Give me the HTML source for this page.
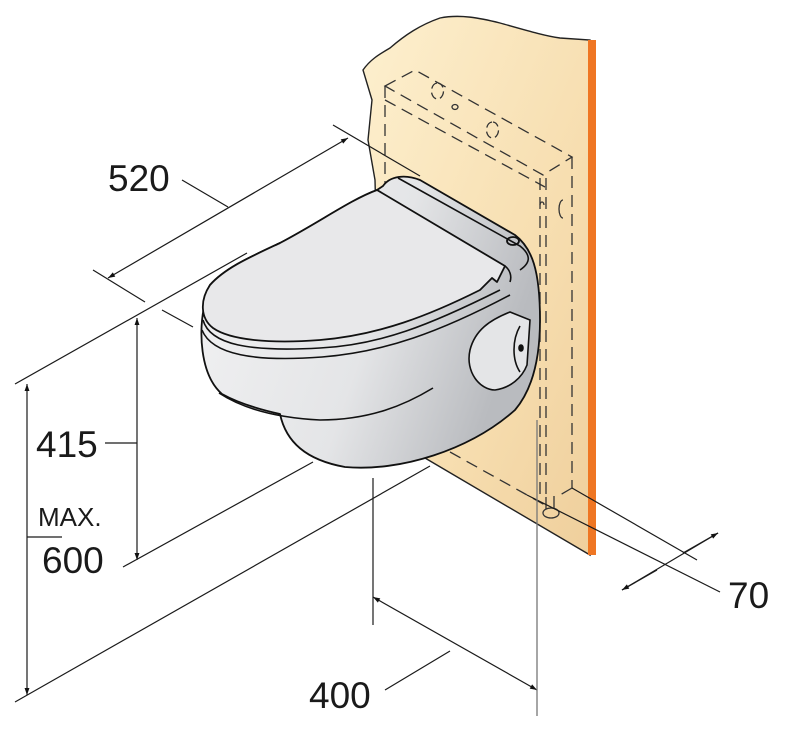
<!DOCTYPE html>
<html><head><meta charset="utf-8"><style>
html,body{margin:0;padding:0;background:#fff}
svg{display:block}
text{font-family:"Liberation Sans",Arial,sans-serif;fill:#1a1a1a}
</style></head><body>
<svg width="806" height="734" viewBox="0 0 806 734" xmlns="http://www.w3.org/2000/svg">
<defs>
<linearGradient id="wall" x1="0" y1="0" x2="1" y2="1">
<stop offset="0" stop-color="#fdf0cf"/><stop offset="0.6" stop-color="#f7deb0"/><stop offset="1" stop-color="#efcf9c"/>
</linearGradient>
<linearGradient id="bowl" x1="0" y1="0" x2="1" y2="0.3">
<stop offset="0" stop-color="#f2f2f3"/><stop offset="0.6" stop-color="#e4e5e7"/><stop offset="1" stop-color="#b9bbbf"/>
</linearGradient>
<marker id="ar" viewBox="0 0 10 10" refX="10" refY="5" markerWidth="14" markerHeight="7" orient="auto-start-reverse" markerUnits="userSpaceOnUse"><path d="M0,1.5 L10,5 L0,8.5 Z" fill="#111"/></marker>
</defs>

<!-- wall -->
<path d="M590,40 L590,555 L425,458 L378,300 L375,180 L368,140 L372,100 L363,70 C370,60 378,55 390,48 C405,35 420,25 440,18 C460,14 480,18 500,23 C525,30 545,36 560,38 L590,40 Z" fill="url(#wall)" stroke="#222" stroke-width="1.4"/>
<rect x="588" y="40" width="8" height="515" fill="#ef7623"/>

<!-- dashed box -->
<g fill="none" stroke="#333" stroke-width="1.3" stroke-dasharray="12,7">
<path d="M385,86 L415,70 L572,157 L543,175 Z"/>
<path d="M385,100 L545,187"/>
<path d="M385,86 L385,300"/>
<path d="M572,157 L572,488"/>
<path d="M540,178 L540,500"/>
<path d="M546,178 L546,500"/>
<path d="M450,452 L545,505"/>
<path d="M572,488 L560,495"/>
</g>
<g fill="none" stroke="#333" stroke-width="1.3">
<path d="M437,83 a6,8 0 1 0 1,0" stroke-dasharray="8,4"/>
<ellipse cx="455" cy="107" rx="3" ry="2.5"/>
<path d="M492,122 a6,8 0 1 0 1,0" stroke-dasharray="8,4"/>
<path d="M563,200 a4,9 0 0 0 0,18"/>
<path d="M540,205 a2,3 0 0 1 4,0"/>
<ellipse cx="551" cy="513" rx="8" ry="5"/>
<path d="M546,497 l0,12 M554,496 l0,12"/>
</g>

<!-- dimension lines -->
<g fill="none" stroke="#1a1a1a" stroke-width="1.2">
<line x1="108" y1="278" x2="348" y2="138" marker-start="url(#ar)" marker-end="url(#ar)"/>
<line x1="333" y1="125" x2="420" y2="176"/>
<line x1="93" y1="270" x2="145" y2="302"/>
<line x1="162" y1="310" x2="193" y2="327"/>
<line x1="182" y1="180" x2="228" y2="207"/>
<line x1="15" y1="384" x2="247" y2="253"/>
<line x1="137" y1="318" x2="137" y2="560" marker-start="url(#ar)" marker-end="url(#ar)"/>
<line x1="105" y1="443" x2="137" y2="443"/>
<line x1="123" y1="567" x2="313" y2="462"/>
<line x1="27" y1="384" x2="27" y2="695" marker-start="url(#ar)" marker-end="url(#ar)"/>
<line x1="27" y1="537" x2="62" y2="537"/>
<line x1="15" y1="702" x2="430" y2="466"/>
<line x1="373" y1="478" x2="373" y2="625"/>
<line x1="373" y1="597" x2="537" y2="690" marker-start="url(#ar)" marker-end="url(#ar)"/>
<line x1="385" y1="690" x2="450" y2="651"/>
<line x1="572" y1="488" x2="697" y2="560"/>
<line x1="527" y1="495" x2="720" y2="592"/>
<line x1="622" y1="590" x2="718" y2="533"/>
<line x1="622" y1="590" x2="657" y2="570" marker-start="url(#ar)"/>
<line x1="683" y1="553" x2="718" y2="533" marker-end="url(#ar)"/>
</g>
<line x1="537" y1="420" x2="537" y2="716" stroke="#777" stroke-width="1.3"/>

<!-- toilet -->
<path d="M205,303 C198,330 200,375 222,394 C240,404 262,410 280,414 C286,442 306,460 345,467 C400,472 470,450 515,410 C532,390 540,360 540,320 C540,270 532,248 515,235 L420,180 C405,174 390,176 383,186 L377,190 C350,200 320,222 280,243 C250,257 225,268 210,285 C206,292 205,297 205,303 Z" fill="url(#bowl)" stroke="#111" stroke-width="1.8" stroke-linejoin="round"/>
<path d="M377,190 L505,266 L497,282 L492,278 L480,290 C430,315 380,335 320,340 C270,344 230,340 213,328 C200,318 200,300 210,285 C225,268 250,257 280,243 C320,222 350,200 377,190 Z" fill="#e8e8ea" stroke="#111" stroke-width="1.8" stroke-linejoin="round"/>
<g fill="none" stroke="#111" stroke-width="1.6">
<path d="M398,178 L520,246 C530,254 532,262 520,270"/>
<path d="M505,266 C510,270 512,276 510,282"/>
<path d="M203,320 C210,345 250,352 320,348 C380,345 430,325 500,290"/>
<path d="M202,330 C212,355 255,362 322,357 C385,352 440,332 510,295"/>
<path d="M219,393 C245,410 280,418 320,420 C370,420 405,405 433,388"/>
<path d="M510,312 C490,320 475,330 470,350 C465,372 480,390 495,390 C510,388 522,378 527,365 L530,320 Z" fill="#e4e5e7"/>
<path d="M520,326 C512,340 512,360 520,372"/>
<ellipse cx="521" cy="348" rx="2" ry="3" fill="#111"/>
<ellipse cx="513" cy="241" rx="6" ry="4" stroke-width="1.8"/>
</g>

<!-- labels -->
<text x="108" y="191" font-size="37">520</text>
<text x="36" y="457" font-size="37">415</text>
<text x="38" y="526" font-size="26">MAX.</text>
<text x="42" y="573" font-size="37">600</text>
<text x="309" y="708" font-size="37">400</text>
<text x="728" y="608" font-size="37">70</text>
</svg>
</body></html>
